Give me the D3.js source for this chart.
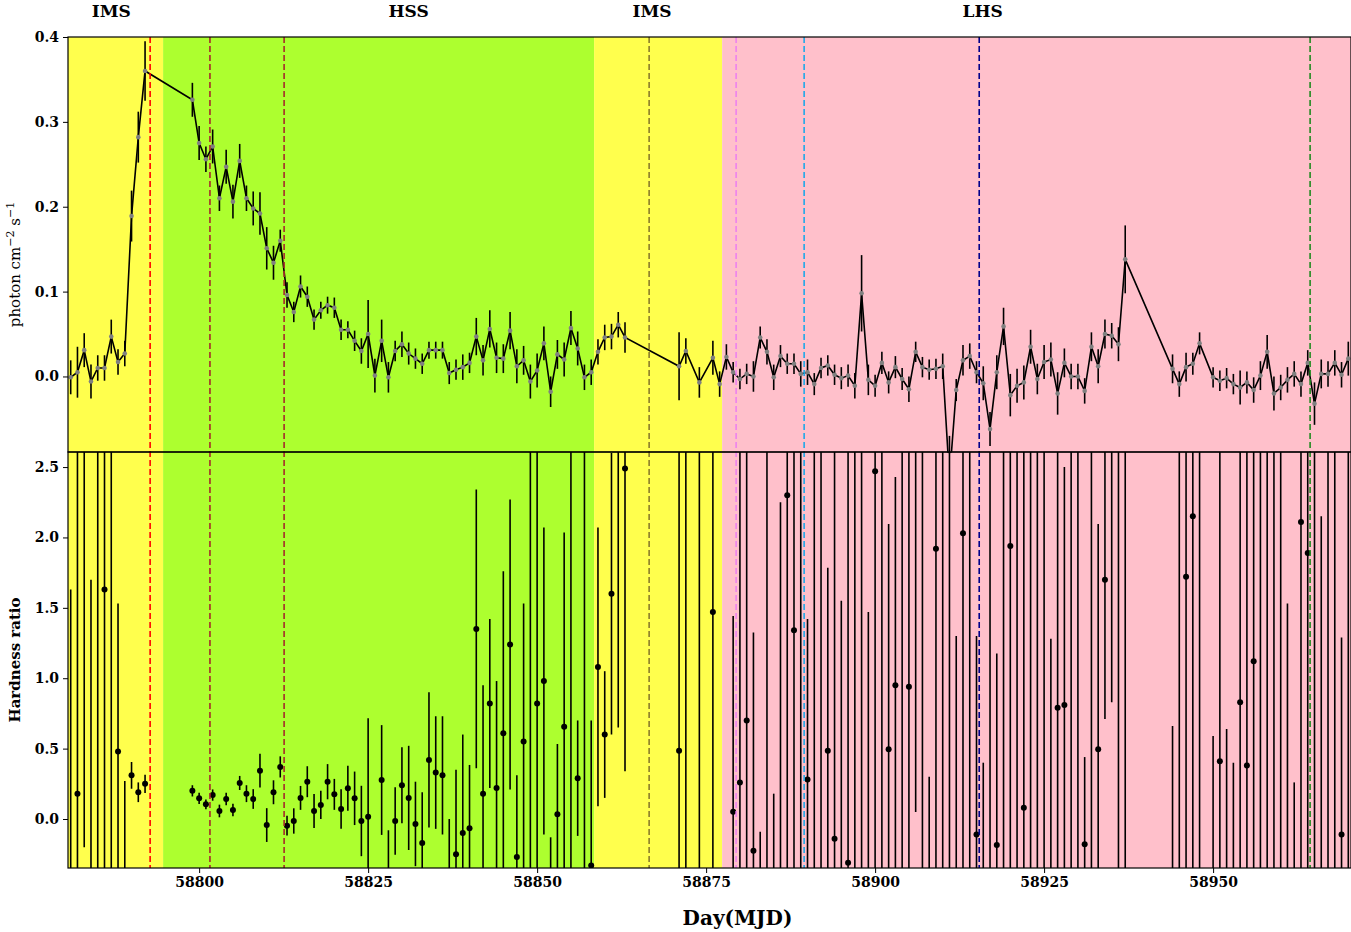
<!DOCTYPE html>
<html><head><meta charset="utf-8">
<script src="https://cdn.jsdelivr.net/npm/d3@7"></script>
<style>body{margin:0;background:#fff}</style>
</head><body>
<svg id="c" width="1351" height="932"></svg>
<script>
const fluxDays=[58781,58782,58783,58784,58785,58786,58787,58788,58789,58790,58791,58792,
58799,58800,58801,58802,58803,58804,58805,58806,58807,58808,58809,58810,58811,58812,58813,58814,58815,58816,58817,58818,58819,58820,58821,58822,58823,58824,58825,58826,58827,58828,58829,58830,58831,58832,58833,58834,58835,58836,58837,58838,58839,58840,58841,58842,58843,58844,58845,58846,
58847,58848,58849,58850,58851,58852,58853,58854,58855,58856,58857,58858,58859,58860,58861,58862,58863,
58871,58872,58874,58876,58877,
58878,58879,58880,58881,58882,58883,58884,58885,58886,58887,58888,58889,58890,58891,58892,58893,58894,58895,58896,58897,58898,58899,58900,58901,58902,58903,58904,58905,58906,58907,58908,58909,58910,
58911,
58912,58913,58914,58915,58916,58917,58918,58919,58920,58921,58922,58923,58924,58925,58926,58927,58928,58929,58930,58931,58932,58933,58934,58935,58936,58937,
58944,58945,58946,58947,58948,
58950,58951,58952,58953,58954,58955,58956,58957,58958,58959,58960,58961,58962,58963,58964,58965,58966,58967,58968,58969,58970];
const fluxVals=[-0.001,0.005,0.031,-0.006,0.010,0.010,0.047,0.017,0.027,0.189,0.282,0.360,
0.326,0.275,0.256,0.271,0.210,0.247,0.206,0.254,0.210,0.198,0.192,0.151,0.134,0.160,0.096,0.076,0.106,0.094,0.067,0.078,0.084,0.081,0.055,0.055,0.042,0.030,0.050,0.001,0.042,-0.001,0.030,0.038,0.027,0.021,0.015,0.031,0.031,0.031,0.004,0.008,0.011,0.016,0.047,0.019,0.056,0.022,0.021,0.054,
0.012,0.019,-0.006,0.007,0.039,-0.018,0.026,0.020,0.057,0.033,-0.001,0.005,0.029,0.046,0.047,0.061,0.046,
0.012,0.030,-0.007,0.022,-0.009,
0.023,0.005,-0.003,0.003,0.000,0.046,0.029,-0.001,0.024,0.015,0.015,0.003,0.005,-0.009,0.010,0.013,0.002,-0.002,0.001,-0.011,0.098,-0.004,-0.011,0.016,-0.007,0.011,-0.003,-0.015,0.029,0.011,0.008,0.009,0.012,
-0.12,
-0.016,0.019,0.024,0.005,-0.008,-0.062,0.005,0.059,-0.022,-0.011,-0.007,0.035,-0.003,0.017,0.020,-0.020,0.016,0.000,0.000,-0.017,0.035,0.012,0.050,0.048,0.038,0.138,
0.009,-0.009,0.011,0.015,0.039,
-0.001,-0.005,-0.002,-0.009,-0.013,-0.007,-0.016,0.001,0.029,-0.020,-0.013,-0.004,0.003,-0.009,0.016,-0.032,0.003,0.003,0.016,0.002,0.021];
const fluxErrs=[0.02,0.03,0.02,0.02,0.015,0.015,0.02,0.015,0.015,0.03,0.03,0.035,
0.02,0.02,0.015,0.02,0.015,0.02,0.02,0.02,0.015,0.02,0.025,0.025,0.02,0.013,0.015,0.012,0.013,0.012,0.012,0.01,0.01,0.012,0.012,0.01,0.012,0.015,0.04,0.02,0.025,0.018,0.012,0.015,0.013,0.012,0.012,0.01,0.01,0.01,0.013,0.012,0.015,0.012,0.022,0.018,0.022,0.018,0.017,0.022,
0.02,0.017,0.02,0.02,0.02,0.018,0.017,0.02,0.02,0.02,0.015,0.015,0.015,0.015,0.015,0.015,0.018,
0.04,0.015,0.018,0.02,0.015,
0.015,0.012,0.012,0.012,0.018,0.013,0.015,0.015,0.013,0.012,0.012,0.015,0.015,0.013,0.012,0.012,0.012,0.013,0.013,0.015,0.045,0.018,0.013,0.013,0.013,0.013,0.013,0.015,0.012,0.012,0.012,0.012,0.015,
0.05,
0.013,0.018,0.015,0.013,0.02,0.02,0.02,0.022,0.025,0.02,0.02,0.02,0.018,0.02,0.02,0.025,0.017,0.015,0.015,0.015,0.017,0.02,0.017,0.015,0.02,0.04,
0.017,0.015,0.017,0.013,0.013,
0.012,0.012,0.012,0.012,0.02,0.013,0.015,0.017,0.02,0.02,0.015,0.015,0.015,0.015,0.015,0.025,0.017,0.015,0.015,0.015,0.02];

const hrDays=[58781,58782,58783,58784,58785,58786,58787,58788,58789,58790,58791,58792,
58799,58800,58801,58802,58803,58804,58805,58806,58807,58808,58809,58810,58811,58812,58813,58814,58815,58816,58817,58818,58819,58820,58821,58822,58823,58824,58825,58826,58827,58828,58829,58830,58831,58832,58833,58834,58835,58836,58837,58838,58839,58840,58841,58842,58843,58844,58845,58846,
58847,58848,58849,58850,58851,58852,58853,58854,58855,58856,58857,58858,58859,58860,58861,58862,58863,
58871,58872,58874,58876,
58879,58880,58881,58882,58883,58884,58885,58886,58887,58888,58889,58890,58891,58892,58893,58894,58895,58896,58897,58898,58899,58900,58901,58902,58903,58904,58905,58906,58907,58908,58909,58910,
58911,58912,58913,58914,58915,58916,58917,58918,58919,58920,58921,58922,58923,58924,58925,58926,58927,58928,58929,58930,58931,58932,58933,58934,58935,58936,58937,
58944,58945,58946,58947,58948,
58950,58951,58952,58953,58954,58955,58956,58957,58958,58959,58960,58961,58962,58963,58964,58965,58966,58967,58968,58969,58970];
const hrVals=[-0.5,0.18,3,-0.5,3,1.63,3,0.48,-0.6,0.31,0.19,0.25,
0.20,0.147,0.104,0.17,0.057,0.142,0.064,0.256,0.18,0.142,0.343,-0.043,0.19,0.37,-0.047,-0.014,0.15,0.265,0.057,0.10,0.265,0.175,0.071,0.218,0.147,-0.014,0.016,-0.6,0.277,-0.5,-0.014,0.24,0.15,-0.035,-0.17,0.42,0.33,0.31,-0.5,-0.25,-0.10,-0.066,1.35,0.18,0.82,0.22,0.61,1.24,
-0.27,0.55,3,0.82,0.98,-0.7,0.033,0.655,3,0.29,3,-0.33,1.08,0.60,1.60,3,2.49,
0.485,3,3,1.47,
0.052,0.26,0.70,-0.225,-0.6,3,-0.7,-0.5,2.30,1.34,3,0.28,3,3,0.485,-0.14,-0.7,-0.31,3,3,-0.6,2.47,3,0.495,0.95,3,0.94,3,3,-0.6,1.92,3,
2.62,-0.6,2.03,3,-0.11,-0.5,3,-0.185,3,1.94,3,0.08,3,3,3,-0.6,0.79,0.81,3,3,-0.18,3,0.495,1.70,3,3,3,
-0.6,3,1.72,2.15,3,
-0.6,0.41,-0.6,-0.6,0.83,0.38,1.12,3,3,3,3,-0.6,-0.6,2.11,1.89,3,-0.6,3,3,-0.11,3];
const hrErrs=[2.13,3,3.2,2.2,4,3,4,1.05,0.87,0.095,0.07,0.065,
0.04,0.04,0.035,0.04,0.045,0.045,0.045,0.05,0.06,0.07,0.12,0.12,0.085,0.075,0.07,0.09,0.085,0.11,0.12,0.10,0.125,0.11,0.14,0.16,0.19,0.25,0.70,0.25,0.39,0.42,0.24,0.27,0.37,0.30,0.36,0.48,0.40,0.42,0.5,0.6,0.7,0.45,0.99,0.77,0.6,0.76,1.15,1.03,
0.58,0.98,4,3,1.09,0.57,0.5,1.38,4,0.41,4,1.03,0.99,0.45,1.0,2.35,2.15,
3,4,4,2.5,
1.39,3,3,1.55,0.51,4,0.88,2.75,3,3,4,1.14,4,4,1.3,3,2.25,3,4,4,2.07,3,4,1.6,1.48,4,3,2.95,4,0.9,3,4,
3,1.9,3,4,1.41,0.9,4,1.36,4,3,4,3,4,4,4,1.88,3,1.69,4,4,0.62,4,1.6,0.99,2.17,4,4,
1.26,4,3,3,4,
1.19,3,1.24,1.0,3,3,3,4,4,4,4,2.13,0.86,3,3,4,2.75,4,4,1.4,4];

const stateBands=[{s:58780.6,e:58794.67,c:"#ffff4d"},{s:58794.67,e:58858.43,c:"#adff2f"},{s:58858.43,e:58877.37,c:"#ffff4d"},{s:58877.37,e:58971,c:"#ffc0cb"}];
const stateLabels=[{t:"IMS",d:58787.0},{t:"HSS",d:58831.0},{t:"IMS",d:58867.0},{t:"LHS",d:58915.9}];
const vlines=[{d:58792.75,c:"#ff0000"},{d:58801.6,c:"#a52a2a"},{d:58812.57,c:"#a52a2a"},{d:58866.57,c:"#8b7d2a"},{d:58879.44,c:"#ee82ee"},{d:58889.5,c:"#1ea8e8"},{d:58915.4,c:"#00008b"},{d:58964.35,c:"#228b22"}];
const xTicks=[58800,58825,58850,58875,58900,58925,58950];
const fluxTicks=[0.0,0.1,0.2,0.3,0.4];
const hrTicks=[0.0,0.5,1.0,1.5,2.0,2.5];

const svg=d3.select("#c");
const L=68,R=1351,T1=37,B1=452,B2=868;
const x=d3.scaleLinear().domain([58780.6,58970.4]).range([L,R]);
const y1=d3.scaleLinear().domain([-0.089,0.4]).range([B1,T1]);
const y2=d3.scaleLinear().domain([-0.348,2.607]).range([B2,B1]);
const font="DejaVu Serif";

const defs=svg.append("defs");
defs.append("clipPath").attr("id","cp1").append("rect").attr("x",L).attr("y",T1).attr("width",R-L).attr("height",B1-T1);
defs.append("clipPath").attr("id","cp2").append("rect").attr("x",L).attr("y",B1).attr("width",R-L).attr("height",B2-B1);
defs.append("clipPath").attr("id","cpa").append("rect").attr("x",L).attr("y",T1).attr("width",R-L).attr("height",B2-T1);

const bg=svg.append("g").attr("clip-path","url(#cpa)");
bg.selectAll("rect").data(stateBands).join("rect")
 .attr("x",d=>x(d.s)).attr("width",d=>x(d.e)-x(d.s)).attr("y",T1).attr("height",B2-T1).attr("fill",d=>d.c);

const g1=svg.append("g").attr("clip-path","url(#cp1)");
const fl=fluxDays.map((d,i)=>({d,v:fluxVals[i],e:fluxErrs[i]}));
g1.selectAll("line.e").data(fl).join("line").attr("class","e")
 .attr("x1",d=>x(d.d)).attr("x2",d=>x(d.d)).attr("y1",d=>y1(d.v-d.e)).attr("y2",d=>y1(d.v+d.e))
 .attr("stroke","#000").attr("stroke-width",1.6);
g1.append("path").datum(fl).attr("fill","none").attr("stroke","#000").attr("stroke-width",1.6)
 .attr("d",d3.line().x(d=>x(d.d)).y(d=>y1(d.v)));
g1.selectAll("circle").data(fl).join("circle").attr("cx",d=>x(d.d)).attr("cy",d=>y1(d.v)).attr("r",2.3).attr("fill","#808080");

const g2=svg.append("g").attr("clip-path","url(#cp2)");
const hr=hrDays.map((d,i)=>({d,v:hrVals[i],e:hrErrs[i]}));
g2.selectAll("line.e").data(hr).join("line").attr("class","e")
 .attr("x1",d=>x(d.d)).attr("x2",d=>x(d.d)).attr("y1",d=>y2(d.v-d.e)).attr("y2",d=>y2(d.v+d.e))
 .attr("stroke","#000").attr("stroke-width",1.6);
g2.selectAll("circle").data(hr).join("circle").attr("cx",d=>x(d.d)).attr("cy",d=>y2(d.v)).attr("r",3).attr("fill","#000");

svg.append("g").selectAll("line").data(vlines).join("line")
 .attr("x1",d=>x(d.d)).attr("x2",d=>x(d.d)).attr("y1",T1).attr("y2",B2)
 .attr("stroke",d=>d.c).attr("stroke-width",1.6).attr("stroke-dasharray","6,3");

svg.append("rect").attr("x",L).attr("y",T1).attr("width",R-L).attr("height",B1-T1).attr("fill","none").attr("stroke","#000").attr("stroke-width",1.2);
svg.append("rect").attr("x",L).attr("y",B1).attr("width",R-L).attr("height",B2-B1).attr("fill","none").attr("stroke","#000").attr("stroke-width",1.2);

const ya1=svg.append("g").attr("transform",`translate(${L},0)`).call(d3.axisLeft(y1).tickValues(fluxTicks).tickFormat(d3.format(".1f")).tickSize(5).tickPadding(4));
const ya2=svg.append("g").attr("transform",`translate(${L},0)`).call(d3.axisLeft(y2).tickValues(hrTicks).tickFormat(d3.format(".1f")).tickSize(5).tickPadding(4));
const xa=svg.append("g").attr("transform",`translate(0,${B2})`).call(d3.axisBottom(x).tickValues(xTicks).tickFormat(d3.format("d")).tickSize(5).tickPadding(4));
[ya1,ya2,xa].forEach(a=>{a.select(".domain").remove();a.selectAll("text").attr("font-family",font).attr("font-size",14).attr("font-weight","bold").attr("fill","#000");});

svg.append("g").selectAll("text").data(stateLabels).join("text")
 .attr("x",d=>x(d.d)).attr("y",17).attr("text-anchor","middle").attr("font-family",font).attr("font-weight","bold").attr("font-size",17).text(d=>d.t);
svg.append("text").attr("x",(L+R)/2+28).attr("y",925).attr("text-anchor","middle").attr("font-family",font).attr("font-weight","bold").attr("font-size",20).text("Day(MJD)");
const yl=svg.append("text").attr("transform",`translate(20,${(T1+B1)/2+20}) rotate(-90)`).attr("text-anchor","middle").attr("font-family",font).attr("font-size",15);
yl.append("tspan").text("photon cm");
yl.append("tspan").attr("dy",-6).attr("font-size",11).text("−2");
yl.append("tspan").attr("dy",6).text(" s");
yl.append("tspan").attr("dy",-6).attr("font-size",11).text("−1");
svg.append("text").attr("transform",`translate(20,${(B1+B2)/2}) rotate(-90)`).attr("text-anchor","middle").attr("font-family",font).attr("font-weight","bold").attr("font-size",15).text("Hardness ratio");
</script>
</body></html>
